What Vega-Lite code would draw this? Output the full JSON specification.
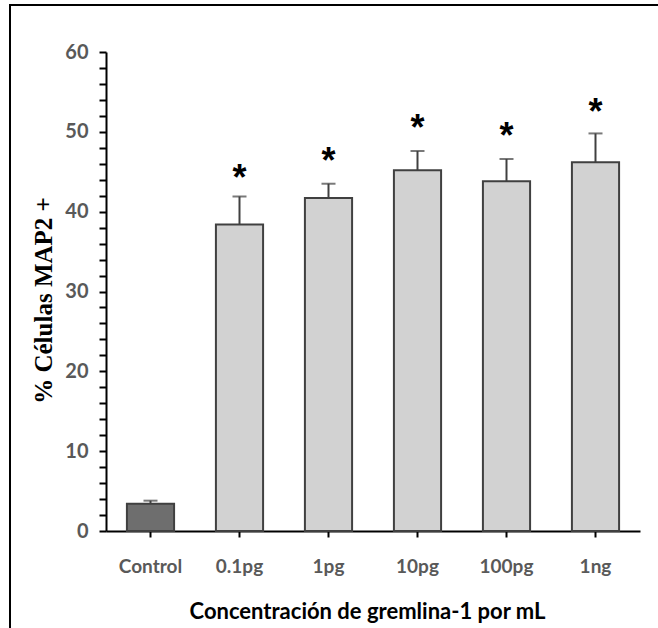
{
  "$schema": "https://vega.github.io/schema/vega-lite/v6.json",
  "autosize": {"type": "none"},
  "padding": {"left": 10, "top": 5, "right": 0, "bottom": 0},
  "width": 660,
  "height": 630,
  "background": "white",
  "config": {
    "view": {"stroke": "black", "strokeWidth": 2},
    "axisY": {
      "grid": false,
      "tickSize": 7,
      "tickWidth": 2,
      "tickColor": "black",
      "domainWidth": 2,
      "domainColor": "black",
      "labelFont": "Lato",
      "labelFontWeight": "bold",
      "labelFontSize": 20,
      "labelColor": "#595959",
      "labelPadding": 11,
      "labelOverlap": false
    }
  },
  "data": {
    "values": [
      {"conc": "Control", "media": 3.4, "sup": 3.8, "ast": null, "sig": "", "tipo": "control"},
      {"conc": "0.1pg", "media": 38.4, "sup": 41.9, "ast": 45.0, "sig": "*", "tipo": "tratado"},
      {"conc": "1pg", "media": 41.7, "sup": 43.5, "ast": 47.1, "sig": "*", "tipo": "tratado"},
      {"conc": "10pg", "media": 45.2, "sup": 47.6, "ast": 51.2, "sig": "*", "tipo": "tratado"},
      {"conc": "100pg", "media": 43.8, "sup": 46.6, "ast": 50.2, "sig": "*", "tipo": "tratado"},
      {"conc": "1ng", "media": 46.2, "sup": 49.8, "ast": 53.2, "sig": "*", "tipo": "tratado"}
    ]
  },
  "resolve": {"axis": {"y": "independent"}},
  "encoding": {
    "x": {
      "field": "conc",
      "type": "nominal",
      "sort": null,
      "scale": {"range": [96, 630], "paddingInner": 0.47, "paddingOuter": 0.235},
      "axis": {
        "offset": -104,
        "labelAngle": 0,
        "tickSize": 6,
        "tickWidth": 2,
        "tickColor": "black",
        "domainWidth": 2,
        "domainColor": "black",
        "labelFont": "Lato",
        "labelFontWeight": "bold",
        "labelFontSize": 19,
        "labelColor": "#595959",
        "labelPadding": 20,
        "title": "Concentración de gremlina-1 por mL",
        "titleFont": "Lato",
        "titleFontWeight": "bold",
        "titleFontSize": 22,
        "titleColor": "black",
        "titleX": 357,
        "titleY": 87,
        "titleAlign": "center",
        "titleBaseline": "alphabetic"
      }
    }
  },
  "layer": [
    {
      "mark": {"type": "bar", "stroke": "#404040", "strokeWidth": 2},
      "encoding": {
        "y": {
          "field": "media",
          "type": "quantitative",
          "scale": {"domain": [0, 60], "range": [526, 47], "nice": false, "zero": true},
          "axis": {
            "offset": -96,
            "values": [0, 2, 4, 6, 8, 10, 12, 14, 16, 18, 20, 22, 24, 26, 28, 30, 32, 34, 36, 38, 40, 42, 44, 46, 48, 50, 52, 54, 56, 58, 60],
            "labelExpr": "datum.value % 10 === 0 ? datum.label : ''",
            "title": "% Células MAP2 +",
            "titleFont": "Liberation Serif",
            "titleFontWeight": "bold",
            "titleFontSize": 25,
            "titleColor": "black",
            "titleAngle": -90,
            "titleX": -63,
            "titleY": 295,
            "titleAlign": "center",
            "titleBaseline": "middle"
          }
        },
        "color": {
          "field": "tipo",
          "type": "nominal",
          "scale": {"domain": ["control", "tratado"], "range": ["#6e6e6e", "#d2d2d2"]},
          "legend": null
        }
      }
    },
    {
      "mark": {"type": "rule", "color": "#404040", "strokeWidth": 2},
      "encoding": {
        "y": {"field": "media", "type": "quantitative", "axis": null},
        "y2": {"field": "sup"}
      }
    },
    {
      "mark": {"type": "tick", "color": "#404040", "thickness": 2, "size": 14},
      "encoding": {
        "y": {"field": "sup", "type": "quantitative", "axis": null}
      }
    },
    {
      "mark": {"type": "text", "font": "Liberation Sans", "fontWeight": "bold", "fontSize": 36, "baseline": "middle", "dy": 7, "color": "black"},
      "encoding": {
        "y": {"field": "ast", "type": "quantitative", "axis": null},
        "text": {"field": "sig"}
      }
    }
  ]
}
